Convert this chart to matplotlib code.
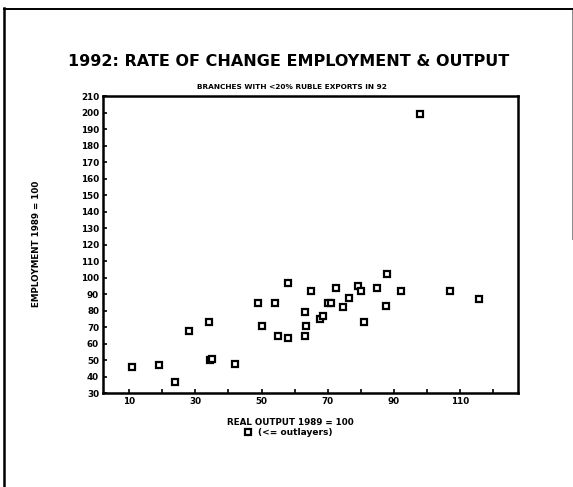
import numpy as np
import matplotlib
matplotlib.use("Agg")
import matplotlib.pyplot as plt
from matplotlib.lines import Line2D

# real output 1989 = 100 (x), employment 1989 = 100 (y)
output = [11, 19, 24, 28, 34, 34.5, 35, 42, 49, 50, 54, 55, 58, 58, 63, 63.5, 63,
          65, 67.5, 68.5, 70, 71, 72.5, 74.5, 76.5, 79, 80, 81, 85, 87.5, 88,
          92, 107, 115.5, 97.7]
employment = [46, 47, 37, 68, 73, 50, 51, 48, 85, 71, 85, 65, 63.5, 97, 79, 71, 65,
              92, 75, 77, 85, 85, 94, 82, 88, 95, 92, 73.5, 94, 83, 102,
              92, 92, 87, 199]

yticks = list(range(30, 211, 10))
xticks = list(range(10, 121, 10))
xlabels = ['10', '', '30', '', '50', '', '70', '', '90', '', '110', '']

fig = plt.figure(figsize=(5.73, 4.87), dpi=100)
ax = fig.add_axes([0.179, 0.1924, 0.7255, 0.6099])

ax.plot(output, employment, linestyle='none', marker='s', markersize=5,
        markerfacecolor='white', markeredgecolor='black', markeredgewidth=1.6)

ax.set_xlim(2, 127.5)
ax.set_ylim(30, 210)
ax.set_xticks(xticks)
ax.set_xticklabels(xlabels, fontsize=6.3, fontweight='bold')
ax.set_yticks(yticks)
ax.set_yticklabels([str(v) for v in yticks], fontsize=6.3, fontweight='bold')
ax.tick_params(direction='in', length=3, width=1.2, pad=2.5)
for s in ax.spines.values():
    s.set_linewidth(1.8)

# axis titles
fig.text(0.506, 0.132, 'REAL OUTPUT 1989 = 100', ha='center', va='center',
         fontsize=6.3, fontweight='bold')
fig.text(0.064, 0.50, 'EMPLOYMENT 1989 = 100', ha='center', va='center',
         rotation=90, fontsize=6.3, fontweight='bold')

fig.text(0.504, 0.873, '1992: RATE OF CHANGE EMPLOYMENT & OUTPUT',
         ha='center', va='center', fontsize=11.5, fontweight='bold')
fig.text(0.510, 0.822, 'BRANCHES WITH <20% RUBLE EXPORTS IN 92',
         ha='center', va='center', fontsize=5.35, fontweight='bold')

# legend line under the x label
fig.add_artist(Line2D([0.433], [0.112], marker='s', markersize=4.5,
                      markerfacecolor='white', markeredgecolor='black',
                      markeredgewidth=1.6, transform=fig.transFigure))
fig.text(0.450, 0.112, '(<= outlayers)', ha='left', va='center',
         fontsize=6.5, fontweight='bold')

# scanned page frame
fig.add_artist(Line2D([0.007, 0.007], [0.0, 0.983], color='black', lw=1.8,
                      transform=fig.transFigure))
fig.add_artist(Line2D([0.007, 1.0], [0.982, 0.982], color='black', lw=1.4,
                      transform=fig.transFigure))
fig.add_artist(Line2D([0.998, 0.998], [0.51, 0.98], color='#888888', lw=0.7,
                      transform=fig.transFigure))

fig.savefig('out.png', dpi=100)
